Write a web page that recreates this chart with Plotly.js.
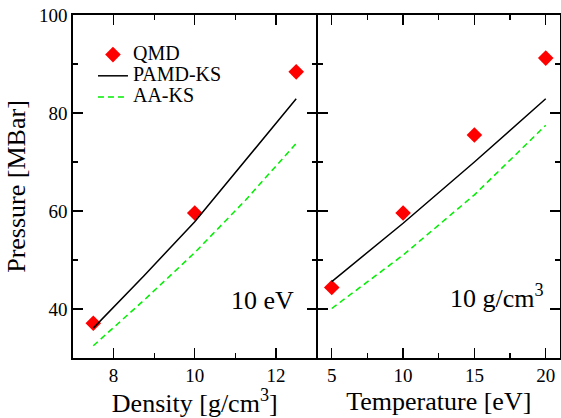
<!DOCTYPE html>
<html>
<head>
<meta charset="utf-8">
<script src="https://cdn.plot.ly/plotly-3.0.1.min.js"></script>
<style>html,body{margin:0;padding:0;background:#fff;}#chart{width:561px;height:418px;}</style>
</head>
<body>
<div id="chart"></div>
<script>
// Left panel: pressure vs density at 10 eV
var densityQMD = [7.5, 10, 12.5];
var pressureQMD_dens = [37.1, 59.6, 88.4];
var densityModel = [7.5, 8.75, 10, 11.25, 12.5];
var pressurePAMD_dens = [36.1, 46.8, 57.8, 70.3, 82.9];
var pressureAA_dens = [32.5, 41.8, 51.5, 62.2, 73.8];

// Right panel: pressure vs temperature at 10 g/cm^3
var temperature = [5, 10, 15, 20];
var pressureQMD_temp = [44.4, 59.6, 75.5, 91.2];
var pressurePAMD_temp = [45.6, 57.5, 70.0, 82.9];
var pressureAA_temp = [40.1, 51.0, 63.3, 77.5];

var densTicks = [8, 10, 12];
var tempTicks = [5, 10, 15, 20];
var presTicks = [40, 60, 80, 100];

var serif = 'Liberation Serif';
var LW = 1.6;
var qmdMarker = {symbol: 'diamond', size: 12, color: '#ff0000'};
var pamdLine = {color: '#000000', width: 1.5};
var aaLine = {color: '#00ee00', width: 1.5, dash: '6px,4px'};
function big(t) { return '<span style="font-size:20px">' + t + '</span>'; }

var traces = [
  {x: densityQMD, y: pressureQMD_dens, type: 'scatter', mode: 'markers', marker: qmdMarker, name: big('QMD'), xaxis: 'x', yaxis: 'y'},
  {x: densityModel, y: pressurePAMD_dens, type: 'scatter', mode: 'lines', line: pamdLine, name: big('PAMD-KS'), xaxis: 'x', yaxis: 'y'},
  {x: densityModel, y: pressureAA_dens, type: 'scatter', mode: 'lines', line: aaLine, name: big('AA-KS'), xaxis: 'x', yaxis: 'y'},
  {x: temperature, y: pressureQMD_temp, type: 'scatter', mode: 'markers', marker: qmdMarker, showlegend: false, xaxis: 'x2', yaxis: 'y2'},
  {x: temperature, y: pressurePAMD_temp, type: 'scatter', mode: 'lines', line: pamdLine, showlegend: false, xaxis: 'x2', yaxis: 'y2'},
  {x: temperature, y: pressureAA_temp, type: 'scatter', mode: 'lines', line: aaLine, showlegend: false, xaxis: 'x2', yaxis: 'y2'}
];

var axCommon = {
  showline: true, linecolor: '#000', linewidth: LW, mirror: 'ticks',
  ticks: 'inside', ticklen: 10, tickwidth: 1.2, tickcolor: '#000',
  showgrid: false, zeroline: false,
  tickfont: {family: serif, size: 19, color: '#000'}
};

var layout = {
  width: 561, height: 418,
  margin: {l: 73, r: 1, t: 15, b: 60},
  paper_bgcolor: '#fff', plot_bgcolor: '#fff',
  font: {family: serif, color: '#000'},
  showlegend: true,
  legend: {x: 0.041, y: 0.93, xanchor: 'left', yanchor: 'top', bgcolor: 'rgba(0,0,0,0)',
           font: {family: serif, size: 14, color: '#000'}},
  xaxis: Object.assign({}, axCommon, {
    domain: [0, 0.5], range: [7, 13], tickvals: densTicks, anchor: 'y',
    minor: {tickvals: [9, 11], ticklen: 5, tickwidth: 1.2, tickcolor: '#000', ticks: 'inside'},
    title: {text: 'Density [g/cm<sup>3</sup>]', font: {family: serif, size: 26, color: '#000'}, standoff: 6}
  }),
  xaxis2: Object.assign({}, axCommon, {
    domain: [0.5 + 1.0 / 487, 1], range: [4, 21], tickvals: tempTicks, anchor: 'y2',
    minor: {tickvals: [7.5, 12.5, 17.5], ticklen: 5, tickwidth: 1.2, tickcolor: '#000', ticks: 'inside'},
    title: {text: 'Temperature [eV]', font: {family: serif, size: 26, color: '#000'}, standoff: 6}
  }),
  yaxis: Object.assign({}, axCommon, {
    domain: [0, 1], range: [30, 100], tickvals: presTicks, anchor: 'x',
    minor: {tickvals: [50, 70, 90], ticklen: 5, tickwidth: 1.2, tickcolor: '#000', ticks: 'inside'},
    title: {text: 'Pressure [MBar]', font: {family: serif, size: 26, color: '#000'}, standoff: 6}
  }),
  yaxis2: Object.assign({}, axCommon, {
    domain: [0, 1], range: [30, 100], tickvals: presTicks, anchor: 'x2', matches: 'y',
    showticklabels: false,
    minor: {tickvals: [50, 70, 90], ticklen: 5, tickwidth: 1.2, tickcolor: '#000', ticks: 'inside'}
  }),
  annotations: [
    {xref: 'x', yref: 'y', x: 12.5, y: 41.8, xanchor: 'right', yanchor: 'middle', showarrow: false,
     text: '10 eV', font: {family: serif, size: 26, color: '#000'}},
    {xref: 'x2', yref: 'y2', x: 20.0, y: 42.5, xanchor: 'right', yanchor: 'middle', showarrow: false,
     text: '10 g/cm<sup>3</sup>', font: {family: serif, size: 26, color: '#000'}}
  ]
};

Plotly.newPlot('chart', traces, layout, {displayModeBar: false, staticPlot: true});
</script>
</body>
</html>
